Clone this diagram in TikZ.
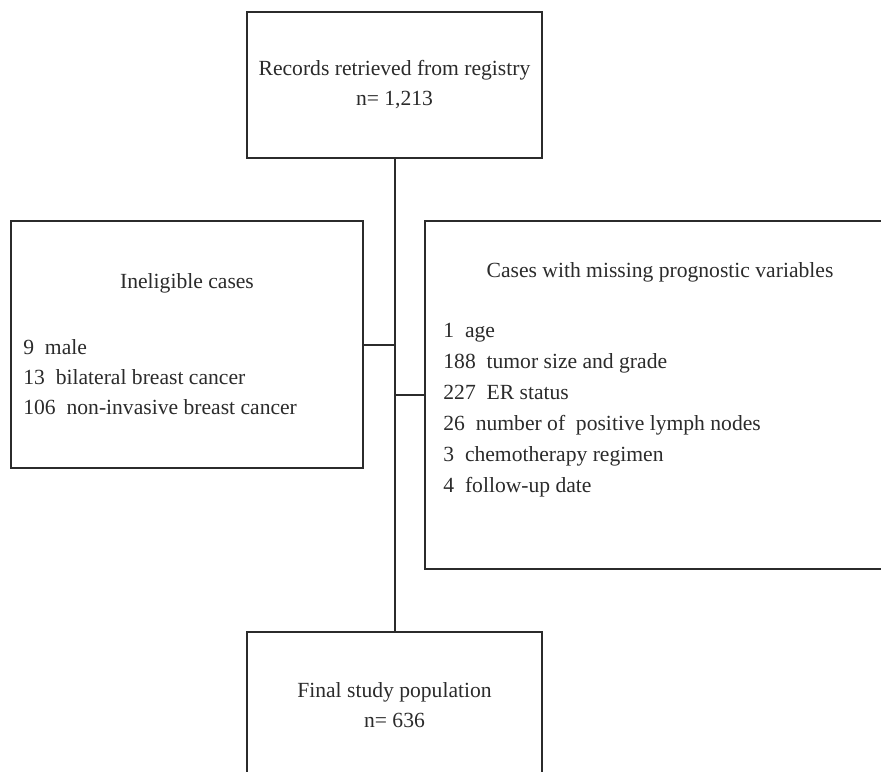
\documentclass[tikz,border=0pt]{standalone}
\usepackage{fontspec}
\setmainfont{Liberation Serif}
\usepackage{tikz}
\usetikzlibrary{positioning,calc}
\definecolor{InkGray}{HTML}{2B2B2B}

\begin{document}
\begin{tikzpicture}[
    x=0.5pt, y=-0.5pt,
    font=\fontsize{10.8}{15}\selectfont,
    text=InkGray,
    flowbox/.style={rectangle, draw=InkGray, line width=1pt, align=center},
    itemlist/.style={anchor=west, align=left, inner sep=0pt},
    link/.style={draw=InkGray, line width=1pt}
]
\clip (0,0) rectangle (881,771);
\fill[white] (0,0) rectangle (881,771);

\node[flowbox, minimum width=147.5pt, minimum height=73pt] (rec) at (394.5,85) {Records retrieved from registry\\n= 1,213};
\node[flowbox, minimum width=147.5pt, minimum height=73pt] (final) at (394.5,705) {Final study population\\n= 636};
\node[flowbox, minimum width=176pt, minimum height=123.5pt] (inel) at (187,344.5) {};
\node[flowbox, minimum width=235pt, minimum height=174pt] (miss) at (660,395) {};

\node[inner sep=0pt] (inelt) at (187,283) {Ineligible cases};
\node[itemlist] (inell) at (23,377) {9~~male\\13~~bilateral breast cancer\\106~~non-invasive breast cancer};

\node[inner sep=0pt] (misst) at (660,272) {Cases with missing prognostic variables};
\node[itemlist, font=\fontsize{10.8}{15.5}\selectfont] (missl) at (443,410.5) {1~~age\\188~~tumor size and grade\\227~~ER status\\26~~number of~~positive lymph nodes\\3~~chemotherapy regimen\\4~~follow-up date};

\draw[link] (rec.south) -- (final.north);
\draw[link] (inel.east) -- (inel.east -| rec.south);
\draw[link] (miss.west) -- (miss.west -| rec.south);
\end{tikzpicture}
\end{document}
